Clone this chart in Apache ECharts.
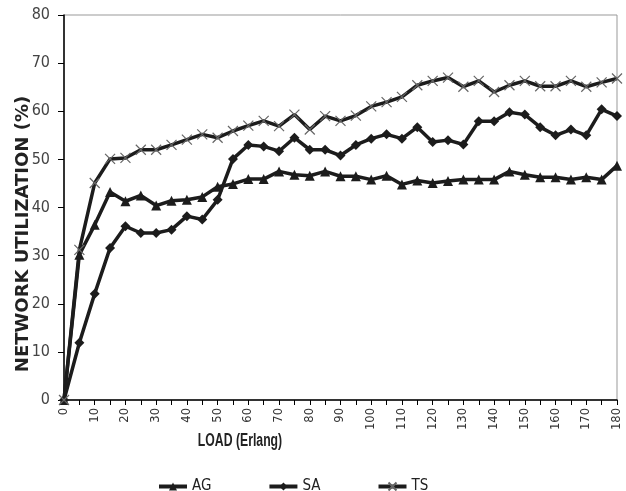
<!DOCTYPE html>
<html>
<head>
<meta charset="utf-8">
<script src="https://cdn.jsdelivr.net/npm/echarts@6/dist/echarts.min.js"></script>
<style>
  html, body { margin: 0; padding: 0; background: #fff; }
  #main { width: 626px; height: 491px; }
</style>
</head>
<body>
<div id="main"></div>
<script>
// x categories (Erlang)
const loads = ['0', '5', '10', '15', '20', '25', '30', '35', '40', '45', '50', '55', '60',
  '65', '70', '75', '80', '85', '90', '95', '100', '105', '110', '115', '120',
  '125', '130', '135', '140', '145', '150', '155', '160', '165', '170', '175', '180']

const ag = [0, 30.2, 36.4, 43.2, 41.3, 42.5, 40.4, 41.4, 41.6, 42.2, 44.3, 44.9, 45.9,
  45.9, 47.5, 46.8, 46.6, 47.5, 46.5, 46.5, 45.8, 46.6, 44.8, 45.6, 45.1,
  45.5, 45.8, 45.8, 45.8, 47.5, 46.8, 46.3, 46.3, 45.8, 46.3, 45.8, 48.7]
const sa = [0, 11.9, 22.1, 31.6, 36.1, 34.7, 34.7, 35.4, 38.2, 37.5, 41.6, 50.1, 53,
  52.7, 51.7, 54.5, 52, 52, 50.8, 53, 54.3, 55.2, 54.3, 56.7, 53.6,
  54, 53.1, 57.9, 57.9, 59.8, 59.3, 56.7, 55, 56.2, 55, 60.4, 59]
const ts = [0, 31.2, 45.1, 50.1, 50.3, 52, 52, 53, 54.1, 55.2, 54.5, 55.9, 57,
  58, 56.9, 59.3, 56.2, 59, 58, 59.1, 61, 61.9, 63, 65.4, 66.3,
  67, 65.1, 66.3, 64, 65.4, 66.3, 65.2, 65.2, 66.3, 65.1, 66, 66.8]

const seriesNames = ['AG', 'SA', 'TS']
const yTicks = { min: 0, max: 80, interval: 10 }

const lineColor = '#1c1c1c'
const narrow = '"Liberation Sans Narrow", "DejaVu Sans Condensed", Arial, sans-serif'

function mkSeries (name, data, symbol, size, extra) {
  return Object.assign({
    name,
    type: 'line',
    data,
    symbol,
    symbolSize: size,
    showAllSymbol: true,
    lineStyle: { color: lineColor, width: 3.5 },
    itemStyle: { color: lineColor },
    z: 3
  }, extra || {})
}

const chart = echarts.init(document.getElementById('main'))
const option = {
  animation: false,
  backgroundColor: '#fff',
  grid: {
    left: 64,
    right: 9,
    top: 15,
    bottom: 91,
    show: true,
    borderColor: '#999',
    borderWidth: 1
  },
  legend: {
    data: seriesNames,
    left: 152,
    top: 474,
    itemWidth: 28,
    itemHeight: 10,
    itemGap: 56,
    lineStyle: { width: 4 },
    textStyle: { fontFamily: narrow, fontSize: 15, color: '#222' }
  },
  xAxis: {
    type: 'category',
    data: loads,
    boundaryGap: false,
    axisLine: { lineStyle: { color: '#000', width: 1.5 } },
    axisTick: { show: true, interval: 0, length: 5, lineStyle: { color: '#000' } },
    axisLabel: {
      interval: 1,
      rotate: 90,
      fontSize: 11.5,
      margin: 8,
      color: '#333',
      fontFamily: '"DejaVu Sans", sans-serif'
    },
    splitLine: { show: false }
  },
  yAxis: {
    type: 'value',
    min: yTicks.min,
    max: yTicks.max,
    interval: yTicks.interval,
    axisLine: { show: true, lineStyle: { color: '#000', width: 1.5 } },
    axisTick: { show: true, length: 6, lineStyle: { color: '#000' } },
    axisLabel: { fontSize: 16, margin: 14, color: '#444', fontFamily: narrow },
    splitLine: { show: false }
  },
  graphic: [{
    type: 'text',
    x: 23,
    y: 234,
    rotation: Math.PI / 2,
    style: {
      text: 'NETWORK UTILIZATION (%)',
      font: 'bold 18px "DejaVu Sans", sans-serif',
      fill: '#222',
      align: 'center',
      verticalAlign: 'middle'
    }
  }, {
    type: 'text',
    x: 240,
    y: 441,
    scaleX: 0.68,
    style: {
      text: 'LOAD (Erlang)',
      font: 'bold 18px "Liberation Sans", Arial, sans-serif',
      fill: '#222',
      align: 'center',
      verticalAlign: 'middle'
    }
  }],
  series: [
    mkSeries('AG', ag, 'triangle', 10),
    mkSeries('SA', sa, 'diamond', 10),
    mkSeries('TS', ts, 'path://M0,0L10,10M10,0L0,10', 10, {
      itemStyle: { color: 'rgba(0,0,0,0)', borderColor: '#666', borderWidth: 1.2 }
    })
  ]
}
chart.setOption(option, true)
</script>
</body>
</html>
